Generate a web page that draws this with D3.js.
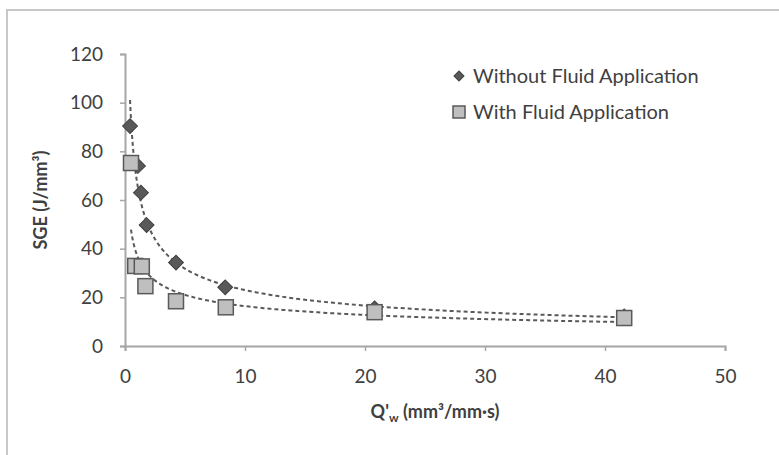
<!DOCTYPE html>
<html>
<head>
<meta charset="utf-8">
<script src="https://cdn.jsdelivr.net/npm/d3@7"></script>
<style>
  body { margin: 0; background: #fff; }
  svg text { font-family: Lato, "Open Sans", sans-serif; }
</style>
</head>
<body>
<div id="chart"></div>
<script>
// Q'w values (mm3/mm.s) and SGE (J/mm3)
const qWithout = [0.42, 1.08, 1.33, 1.8, 4.25, 8.35, 20.8, 41.6];
const sgeWithout = [90.4, 74, 63, 49.7, 34.3, 24.1, 15.5, 12.2];
const qWith = [0.5, 0.85, 1.4, 1.7, 4.25, 8.4, 20.8, 41.6];
const sgeWith = [75.2, 32.9, 32.7, 24.6, 18.4, 15.9, 13.9, 11.5];
const xTicks = [0, 10, 20, 30, 40, 50];
const yTicks = [0, 20, 40, 60, 80, 100, 120];
const seriesNames = ["Without Fluid Application", "With Fluid Application"];

const w = 779, h = 455;
const margin = { top: 54, right: 54, bottom: 109, left: 125 };

const svg = d3.select("#chart").append("svg")
  .attr("width", w)
  .attr("height", h);

// outer chart frame
svg.append("rect")
  .attr("x", 7).attr("y", 10)
  .attr("width", w).attr("height", h)
  .attr("fill", "#fff")
  .attr("stroke", "#c8c8c8")
  .attr("stroke-width", 2);

const x = d3.scaleLinear().domain([0, 50]).range([margin.left, w - margin.right]),
      y = d3.scaleLinear().domain([0, 120]).range([h - margin.bottom, margin.top]);

const xAxis = svg.append("g")
  .attr("transform", `translate(0,${h - margin.bottom})`)
  .call(d3.axisBottom(x).tickValues(xTicks).tickSize(5).tickPadding(19));
const yAxis = svg.append("g")
  .attr("transform", `translate(${margin.left},0)`)
  .call(d3.axisLeft(y).tickValues(yTicks).tickSize(5).tickPadding(17));

[xAxis, yAxis].forEach(a => {
  a.select(".domain").attr("stroke", "#a6a6a6").attr("stroke-width", 2);
  a.selectAll(".tick line").attr("stroke", "#a6a6a6").attr("stroke-width", 1.5);
  a.selectAll(".tick text").attr("fill", "#404040").style("font-size", "19px");
});

svg.append("text")
  .attr("x", 435).attr("y", 418)
  .attr("text-anchor", "middle")
  .attr("fill", "#404040")
  .style("font-size", "18px").style("font-weight", "bold")
  .html("Q'<tspan dy='4' font-size='12'>w</tspan><tspan dy='-4'> (mm³/mm·s)</tspan>");

svg.append("text")
  .attr("transform", "rotate(-90)")
  .attr("x", -200).attr("y", 47)
  .attr("text-anchor", "middle")
  .attr("fill", "#404040")
  .style("font-size", "18px").style("font-weight", "bold")
  .text("SGE (J/mm³)");

// power-law trendlines fitted in log-log space
function powerFit(xs, ys) {
  const lx = xs.map(Math.log), ly = ys.map(Math.log);
  const mx = d3.mean(lx), my = d3.mean(ly);
  const b = d3.sum(lx, (v, i) => (v - mx) * (ly[i] - my)) / d3.sum(lx, v => (v - mx) ** 2);
  const a = Math.exp(my - b * mx);
  return t => a * Math.pow(t, b);
}

const line = d3.line().x(d => x(d[0])).y(d => y(d[1]));

[[qWithout, sgeWithout], [qWith, sgeWith]].forEach(([xs, ys]) => {
  const f = powerFit(xs, ys);
  const x0 = d3.min(xs), x1 = d3.max(xs);
  const pts = d3.range(0, 201).map(i => {
    const t = x0 * Math.pow(x1 / x0, i / 200);
    return [t, f(t)];
  });
  svg.append("path")
    .datum(pts)
    .attr("fill", "none")
    .attr("stroke", "#595959")
    .attr("stroke-width", 2)
    .attr("stroke-dasharray", "4,3")
    .attr("d", line);
});

svg.selectAll(".dia")
  .data(qWithout.map((q, i) => [q, sgeWithout[i]]))
  .enter().append("path")
  .attr("transform", d => `translate(${x(d[0])},${y(d[1])}) rotate(45)`)
  .attr("d", d3.symbol().type(d3.symbolSquare).size(110))
  .attr("fill", "#595959")
  .attr("stroke", "#404040")
  .attr("stroke-width", 1);

svg.selectAll(".sq")
  .data(qWith.map((q, i) => [q, sgeWith[i]]))
  .enter().append("rect")
  .attr("x", d => x(d[0]) - 7.5)
  .attr("y", d => y(d[1]) - 7.5)
  .attr("width", 15)
  .attr("height", 15)
  .attr("fill", "#bfbfbf")
  .attr("stroke", "#595959")
  .attr("stroke-width", 1.5);

// legend
const legend = svg.append("g").attr("transform", "translate(459,76)");
legend.append("path")
  .attr("transform", "rotate(45)")
  .attr("d", d3.symbol().type(d3.symbolSquare).size(50))
  .attr("fill", "#595959").attr("stroke", "#404040");
legend.append("rect")
  .attr("x", -6).attr("y", 30).attr("width", 12).attr("height", 12)
  .attr("fill", "#bfbfbf").attr("stroke", "#595959").attr("stroke-width", 1.5);
seriesNames.forEach((s, i) => {
  legend.append("text")
    .attr("x", 14).attr("y", i * 36 + 7)
    .attr("fill", "#404040")
    .style("font-size", "20px")
    .text(s);
});
</script>
</body>
</html>
